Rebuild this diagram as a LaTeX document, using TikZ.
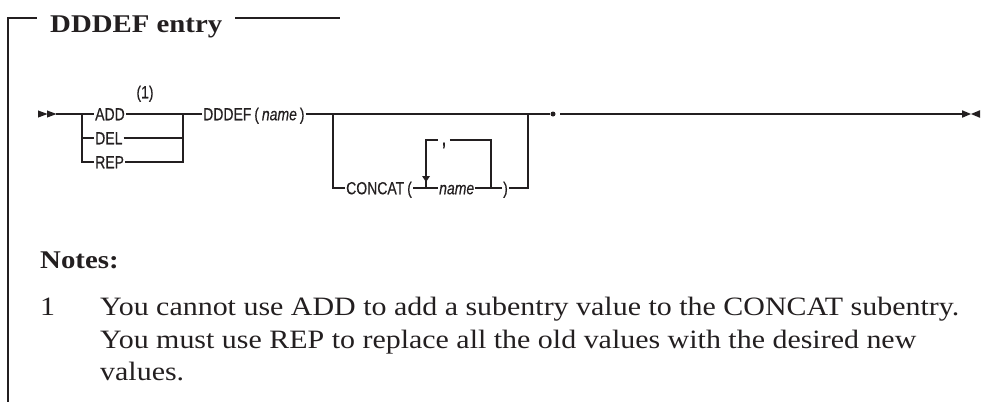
\documentclass[tikz,border=0pt]{standalone}
\usepackage{fontspec}
\setmainfont{Liberation Serif}[FakeStretch=1.13]
\newfontfamily\synfont{Liberation Sans}[FakeStretch=0.8, FakeBold=0.4]
\usetikzlibrary{calc}
\definecolor{ink}{HTML}{231F20}
\begin{document}
\begin{tikzpicture}[x=1pt,y=-1pt,
  syn/.style={font=\synfont\fontsize{17.5}{17.5}\selectfont, text=ink, inner xsep=1pt, inner ysep=0pt, text height=12.5pt, text depth=0pt, anchor=west},
  serif/.style={font=\fontsize{26.5}{30}\selectfont, text=ink, inner sep=0pt, anchor=base west},
  rail/.style={line width=1.1pt, draw=ink},
  frame/.style={line width=1.3pt, draw=ink},
  tip/.style={fill=ink, draw=none},
]
\useasboundingbox (0,0) rectangle (1005,402);
% frame and title
\coordinate (fTL) at (8,18);
\coordinate (fBL) at (8,402);
\coordinate (fTR) at (340,18);
\node[serif, font=\fontsize{25.5}{30}\selectfont\bfseries, inner xsep=13pt] (title) at (37,32) {DDDEF entry};
\draw[frame] (fBL) -- (fTL) -- (fTL -| title.west);
\draw[frame] (fTL -| title.east) -- (fTR);
% syntax diagram
\coordinate (st) at (38,114);
\coordinate (st2) at (56,114);
\fill[tip] (st) ++(0,-3.6) -- ++(9.5,3.6) -- ++(-9.5,3.6) -- cycle;
\fill[tip] (st) ++(9,-3.6) -- ++(9.5,3.6) -- ++(-9.5,3.6) -- cycle;
\coordinate (j1) at (82,114);
\coordinate (j2) at (183,114);
\node[syn] (add) at (94,114) {ADD};
\node[syn] (del) at (94,138) {DEL};
\node[syn] (rep) at (94,162) {REP};
\node[syn, anchor=center] (fn1) at (145,92) {(1)};
\draw[rail] (st2) -- (add.west);
\draw[rail] (j1) |- (rep.west);
\draw[rail] (j1 |- del) -- (del.west);
\draw[rail] (add.east) -- (j2) |- (rep.east);
\draw[rail] (del.east) -- (j2 |- del);
\node[syn] (dddef) at (202,114) {DDDEF\,(\,\textit{name}\,)};
\draw[rail] (j2) -- (dddef.west);
\coordinate (j3) at (333,114);
\coordinate (j4) at (528,114);
\node[circle, fill=ink, inner sep=0pt, minimum size=5pt] (dot) at (553,114) {};
\draw[rail] (dddef.east) -- (dot.west);
\node[syn] (concat) at (345,188) {CONCAT\,(};
\draw[rail] (j3) |- (concat.west);
\node[syn] (nm) at (438,188) {\textit{name}};
\draw[rail] (concat.east) -- (nm.west);
\node[syn] (rp) at (502,188) {)};
\draw[rail] (nm.east) -- (rp.west);
\draw[rail] (rp.east) -| (j4);
\coordinate (l1) at (426,188);
\coordinate (l2) at (491,188);
\node[syn, anchor=center, inner xsep=3pt, font=\synfont\fontsize{24}{24}\selectfont] (comma) at (444,139) {,};
\draw[rail] (l1) |- (comma.west |- 0,140);
\draw[rail] (comma.east |- 0,140) -| (l2);
\fill[tip] (l1) ++(-4,-12) -- ++(8,0) -- ++(-4,6) -- cycle;
\coordinate (after) at (560,114);
\coordinate (endp) at (962,114);
\draw[rail] (after) -- (endp);
\fill[tip] (endp) ++(0,-3.8) -- ++(9,3.8) -- ++(-9,3.8) -- cycle;
\fill[tip] (endp) ++(18,-3.8) -- ++(-9,3.8) -- ++(9,3.8) -- cycle;
% notes
\node[serif, font=\fontsize{25.5}{30}\selectfont\bfseries] (notes) at (40,268) {Notes:};
\node[serif] (n1) at (40,315) {1};
\node[serif] (t1) at (100,315) {You cannot use ADD to add a subentry value to the CONCAT subentry.};
\node[serif] (t2) at (100,348) {You must use REP to replace all the old values with the desired new};
\node[serif] (t3) at (100,380) {values.};
\end{tikzpicture}
\end{document}
